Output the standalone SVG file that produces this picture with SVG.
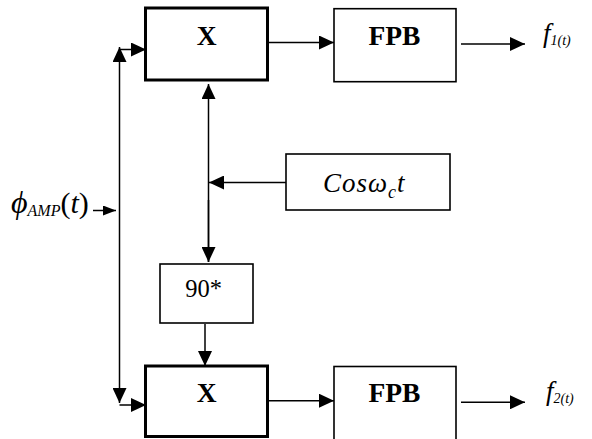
<svg xmlns="http://www.w3.org/2000/svg" width="592" height="439" viewBox="0 0 592 439">
<style>
.thick{fill:#fff;stroke:#000;stroke-width:3}
.thin{fill:#fff;stroke:#000;stroke-width:1.6}
text{font-family:'Liberation Serif','DejaVu Serif',serif;fill:#000}
.lbl{text-anchor:middle}
.b{font-weight:bold;font-size:27.5px}
.ln{fill:none;stroke:#000;stroke-width:1.5}
.it{font-style:italic}
</style>
<defs>
<marker id="ah" markerUnits="userSpaceOnUse" markerWidth="15" markerHeight="14" refX="15" refY="7" orient="auto">
<path d="M0,0 L15,7 L0,14 z" fill="#000"/>
</marker>
<marker id="ahs" markerUnits="userSpaceOnUse" markerWidth="13" markerHeight="10" refX="13" refY="5" orient="auto">
<path d="M0,0 L13,5 L0,10 z" fill="#000"/>
</marker>
</defs>
<g id="connectors">
<line class="ln" x1="119.5" y1="210" x2="119.5" y2="47" marker-end="url(#ah)"/>
<line class="ln" x1="119.5" y1="210" x2="119.5" y2="403" marker-end="url(#ah)"/>
<polyline class="ln" points="119.5,49.5 146,49.5" marker-end="url(#ah)"/>
<polyline class="ln" points="119.5,405 146,405" marker-end="url(#ah)"/>
<line class="ln" x1="93" y1="210.5" x2="116" y2="210.5" marker-end="url(#ahs)"/>
<line class="ln" x1="208.5" y1="262" x2="208.5" y2="84" marker-end="url(#ah)"/>
<line class="ln" x1="208.5" y1="200" x2="208.5" y2="262" marker-end="url(#ah)"/>
<line class="ln" x1="286" y1="182.5" x2="209" y2="182.5" marker-end="url(#ah)"/>
<line class="ln" x1="205" y1="324" x2="205" y2="366" marker-end="url(#ah)"/>
<line class="ln" x1="269" y1="42.5" x2="334" y2="42.5" marker-end="url(#ah)"/>
<line class="ln" x1="269" y1="400.7" x2="334" y2="400.7" marker-end="url(#ah)"/>
<line class="ln" x1="461" y1="44" x2="525" y2="44" marker-end="url(#ah)"/>
<line class="ln" x1="461" y1="402.3" x2="525" y2="402.3" marker-end="url(#ah)"/>
</g>
<g id="mult1">
<rect class="thick" x="145.5" y="8" width="122" height="72"/>
<text class="lbl b" x="206.7" y="45">X</text>
</g>
<g id="fpb1">
<rect class="thin" x="334" y="8.7" width="122" height="73"/>
<text class="lbl b" x="394.5" y="45">FPB</text>
</g>
<g id="osc">
<rect class="thin" x="286" y="154" width="164" height="56"/>
<text class="it" x="323" y="191.5" font-size="27" letter-spacing="1">Cosω<tspan font-size="18" dy="6">c</tspan><tspan font-size="27" dy="-6">t</tspan></text>
</g>
<g id="phase">
<rect class="thin" x="160" y="264" width="93" height="59"/>
<text class="lbl" x="203.5" y="296.5" font-size="24.5">90*</text>
</g>
<g id="mult2">
<rect class="thick" x="145.5" y="366" width="122" height="70.5"/>
<text class="lbl b" x="206.7" y="401.7">X</text>
</g>
<g id="fpb2">
<rect class="thin" x="334" y="366.5" width="122" height="90"/>
<text class="lbl b" x="394.5" y="401.7">FPB</text>
</g>
<g id="input">
<text class="it" x="11" y="213" font-size="32">ϕ<tspan font-size="16" dy="3">AMP</tspan><tspan font-size="30" font-style="normal" dy="-3">(<tspan font-style="italic">t</tspan>)</tspan></text>
</g>
<g id="out1">
<text class="it" x="543" y="42" font-size="27">f<tspan font-size="14" dy="3">1(t)</tspan></text>
</g>
<g id="out2">
<text class="it" x="546" y="400" font-size="27">f<tspan font-size="14" dy="3">2(t)</tspan></text>
</g>
</svg>
